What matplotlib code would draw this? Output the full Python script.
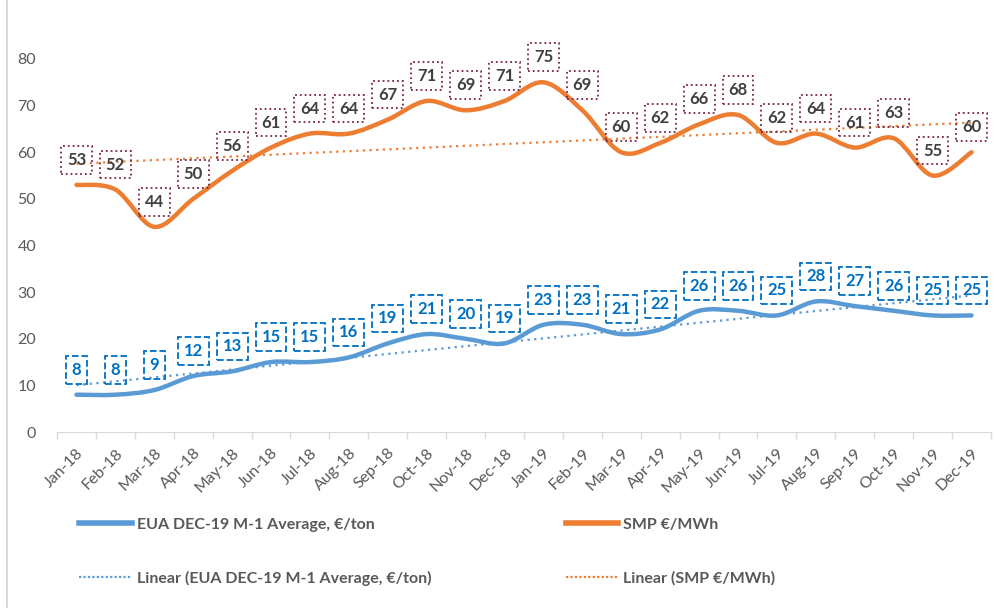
import numpy as np
import matplotlib
matplotlib.use("Agg")
import matplotlib.pyplot as plt
from matplotlib.path import Path
from matplotlib.patches import PathPatch
from matplotlib.lines import Line2D

months = ["Jan-18", "Feb-18", "Mar-18", "Apr-18", "May-18", "Jun-18", "Jul-18", "Aug-18",
          "Sep-18", "Oct-18", "Nov-18", "Dec-18", "Jan-19", "Feb-19", "Mar-19", "Apr-19",
          "May-19", "Jun-19", "Jul-19", "Aug-19", "Sep-19", "Oct-19", "Nov-19", "Dec-19"]
eua = [8, 8, 9, 12, 13, 15, 15, 16, 19, 21, 20, 19, 23, 23, 21, 22, 26, 26, 25, 28, 27, 26, 25, 25]
smp = [53, 52, 44, 50, 56, 61, 64, 64, 67, 71, 69, 71, 75, 69, 60, 62, 66, 68, 62, 64, 61, 63, 55, 60]

plt.rcParams['font.family'] = ['Lato', 'DejaVu Sans']

blue = "#5B9BD5"
orange = "#ED7D31"
gray = "#595959"


def smooth_path(x, y):
    # bezier segments like excel's smoothed line
    p = np.column_stack([x, y]).astype(float)
    n = len(p)
    verts = [p[0]]
    codes = [Path.MOVETO]
    for i in range(n - 1):
        p0 = p[i - 1] if i > 0 else p[i]
        p3 = p[i + 2] if i + 2 < n else p[i + 1]
        c1 = p[i] + (p[i + 1] - p0) / 6
        c2 = p[i + 1] - (p3 - p[i]) / 6
        verts += [c1, c2, p[i + 1]]
        codes += [Path.CURVE4] * 3
    return Path(verts, codes)


fig = plt.figure(figsize=(9.95, 6.08), dpi=100)
ax = fig.add_axes([57 / 995, 1 - 432 / 608, 934 / 995, (432 - 59) / 608])

x = np.arange(len(months))

for vals, col in [(eua, blue), (smp, orange)]:
    ax.add_patch(PathPatch(smooth_path(x, vals), fill=False, edgecolor=col, lw=3.2,
                           capstyle='round', joinstyle='round', zorder=3))
    k, b = np.polyfit(x, vals, 1)
    ax.plot(x, k * x + b, color=col, lw=1.6, ls=(0, (1, 2)), zorder=2)

for xi, v in zip(x, smp):
    ax.annotate(str(v), (xi, v), xytext=(0, 18), textcoords='offset points',
                ha='center', va='center', fontsize=12, fontweight='bold', color="#404040",
                bbox=dict(boxstyle='square,pad=0.35', fc='none', ec="#7B2346", lw=1.3, ls=':'),
                annotation_clip=False, zorder=5)
for xi, v in zip(x, eua):
    ax.annotate(str(v), (xi, v), xytext=(0, 18), textcoords='offset points',
                ha='center', va='center', fontsize=12, fontweight='bold', color="#0070C0",
                bbox=dict(boxstyle='square,pad=0.35', fc='none', ec="#0070C0", lw=1.3, ls='--'),
                annotation_clip=False, zorder=5)

ax.set_xlim(-0.5, 23.5)
ax.set_ylim(0, 80)
ax.set_yticks(range(0, 81, 10))
ax.set_xticks(x)
ax.set_xticklabels(months, rotation=45, ha='right', va='top', rotation_mode='anchor')
ax.set_xticks(np.arange(-0.5, 24, 1), minor=True)
ax.tick_params(axis='x', which='major', length=0, pad=10, labelsize=11.5, labelcolor=gray)
ax.tick_params(axis='x', which='minor', length=5, color="#D9D9D9", width=1)
ax.tick_params(axis='y', length=0, pad=15, labelsize=11.5, labelcolor=gray)
for s in ['top', 'right', 'left']:
    ax.spines[s].set_visible(False)
ax.spines['bottom'].set_color("#D9D9D9")

fig.add_artist(Line2D([7 / 995, 7 / 995], [0, 1], color="#D9D9D9", lw=1.5))

handles = [Line2D([], [], color=blue, lw=4),
           Line2D([], [], color=blue, lw=1.6, ls=(0, (1, 1))),
           Line2D([], [], color=orange, lw=4),
           Line2D([], [], color=orange, lw=1.6, ls=(0, (1, 1)))]
labels = ["EUA DEC-19 M-1 Average, €/ton", "Linear (EUA DEC-19 M-1 Average, €/ton)",
          "SMP €/MWh", "Linear (SMP €/MWh)"]
leg = fig.legend(handles, labels, ncol=2, loc='upper left', bbox_to_anchor=(65 / 995, 1 - 503 / 608),
                 frameon=False, handlelength=3.3, handletextpad=0.3, columnspacing=8.4,
                 labelspacing=2.45, prop={'size': 11.5, 'weight': 'bold'})
for t in leg.get_texts():
    t.set_color(gray)

fig.savefig("out.png", dpi=100)
